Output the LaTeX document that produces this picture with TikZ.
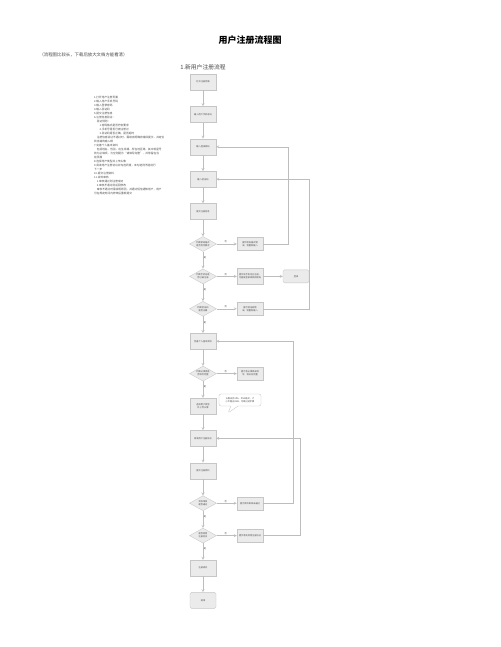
\documentclass[tikz,border=0pt]{standalone}
\usepackage{fontspec}
\setmainfont{Noto Sans CJK SC}
\XeTeXlinebreaklocale "zh"
\XeTeXlinebreakskip=0pt plus 0.01pt
\usetikzlibrary{arrows,shapes.geometric,shapes.callouts}

\definecolor{boxfill}{HTML}{EBEBEB}
\definecolor{boxline}{HTML}{C6C6C6}
\definecolor{flowline}{HTML}{BDBDBD}
\definecolor{txt}{HTML}{4A4A4A}
\newcommand\boxfont{\fontsize{2.2}{2.9}\selectfont}
\newcommand\notefont{\fontsize{2.7}{4}\selectfont}

\begin{document}
\begin{tikzpicture}[x=1pt, y=-1pt, node distance={32.4pt}, line width=0.35pt, >=stealth,
    box/.style = {draw=boxline, fill=boxfill, text=txt, font=\boxfont, minimum width=26pt, minimum height=16pt, text width=22pt, inner sep=0.4pt, align=center},
    tip/.style = {box, minimum height=13pt},
    stop/.style = {box, rounded corners=1.5pt},
    check/.style = {draw=boxline, fill=boxfill, text=txt, font=\boxfont, diamond, aspect=1.9, minimum width=27pt, minimum height=15pt, inner sep=0pt, text width=15pt, align=center},
    flow/.style = {draw=flowline, ->},
    lbl/.style = {text=txt, font=\boxfont, inner sep=0.8pt}]
        \fill[white] (0,0) rectangle (500,647);
        \useasboundingbox (0,0) rectangle (500,647);

        % titles
        \node[font=\fontsize{9}{10}\selectfont\bfseries] (title) at (250,40) {用户注册流程图};
        \node[font=\fontsize{4.4}{5}\selectfont, text=txt, anchor=west] (hint) at (36,55) {（流程图比较长，下载后放大文档方能看清）};
        \node[font=\fontsize{5.8}{6}\selectfont, text=txt] (sub) at (203,67) {1.新用户注册流程};

        % notes on the left
        \node[font=\notefont, text=txt, anchor=north west, align=left, inner sep=0pt] (notes) at (94,96) {%
            1.打开用户注册页面\\
            2.输入用户手机号码\\
            3.输入登录密码\\
            4.输入验证码\\
            5.提交注册信息\\
            6.注册信息验证：\\
            \quad 验证规则：\\
            \qquad 1.密码格式是否符合要求\\
            \qquad 2.手机号是否已被注册过\\
            \qquad 3.验证码是否正确、是否超时\\
            \quad 注册信息验证不通过时，需给出明确的错误提示，并定位\\
            到出错的输入框\\
            7.完善个人基本资料\\
            \quad 包括姓名、性别、出生日期、所在地区等，其中标星号\\
            的为必填项，为空则提示“请填写完整”，并停留在当\\
            前页面\\
            8.选择用户类型并上传头像\\
            9.阅读用户注册协议并勾选同意，未勾选则不能进行\\
            下一步\\
            10.提交注册资料\\
            11.资料审核\\
            \quad 1.审核通过则注册成功\\
            \quad 2.审核不通过则返回修改\\
            \quad 审核不通过时需说明原因，并通过短信通知用户，用户\\
            可在规定时间内修改后重新提交};

        % main column
        \node[box] (b1) at (203,82) {打开注册页面};
        \node[box] (b2) [below of=b1] {输入用户手机号码};
        \node[box] (b3) [below of=b2] {输入登录密码};
        \node[box] (b4) [below of=b3] {输入验证码};
        \node[box] (b5) [below of=b4] {提交注册信息};
        \node[check] (d1) [below of=b5] {判断密码格式是否符合要求};
        \node[check] (d2) [below of=d1] {判断手机号是否已被注册};
        \node[check] (d3) [below of=d2] {判断验证码是否正确};
        \node[box] (b9) [below of=d3] {完善个人基本资料};
        \node[check] (d4) [below of=b9] {判断必填项是否填写完整};
        \node[box] (b11) [below of=d4] {选择用户类型并上传头像};
        \node[box] (b12) [below of=b11] {阅读用户注册协议};
        \node[box] (b13) [below of=b12] {提交注册资料};
        \node[check] (d5) [below of=b13] {资料审核是否通过};
        \node[check] (d6) [below of=d5] {是否同意注册协议};
        \node[box] (b16) [below of=d6] {注册成功};
        \node[stop] (b17) [below of=b16] {结束};

        % right column
        \node[tip] (r1) [node distance=47pt, right of=d1] {提示密码格式错误，请重新输入};
        \node[tip, minimum height=16pt] (r2) [node distance=47pt, right of=d2] {提示该手机号已注册，可直接登录或找回密码};
        \node[stop, minimum height=13pt] (login) [node distance=46pt, right of=r2] {登录};
        \node[tip] (r3) [node distance=47pt, right of=d3] {提示验证码错误，请重新输入};
        \node[tip] (r4) [node distance=47pt, right of=d4] {提示有必填项未填写，请补充完整};
        \node[tip] (r5) [node distance=47pt, right of=d5] {提示资料审核未通过};
        \node[tip] (r6) [node distance=47pt, right of=d6] {提示请先同意注册协议};

        % callout
        \node[rectangle callout, rounded corners=2pt, draw=boxline, fill=white, text=txt, font=\boxfont, text width=40pt, align=center, inner sep=1pt, minimum height=12pt, callout absolute pointer={(228,413)}] (memo) at (240,400) {头像支持JPG、PNG格式，大小不超过2MB，可跳过此步骤};

        % main flow
        \foreach \a/\b in {b1/b2, b2/b3, b3/b4, b4/b5, b5/d1, b9/d4, b11/b12, b12/b13, b13/d5, b16/b17}
            \draw[flow] (\a) -- (\b);
        \foreach \a/\b in {d1/d2, d2/d3, d3/b9, d4/b11, d5/d6, d6/b16}
            \draw[flow] (\a) -- node[lbl, right, pos=0.35] {是} (\b);
        \foreach \a/\b in {d1/r1, d2/r2, d3/r3, d4/r4, d5/r5, d6/r6}
            \draw[flow] (\a) -- node[lbl, above, pos=0.45] {否} (\b);

        % back lines
        \draw[flow] (r2) -- (login);
        \draw[flow] (r1.east) -- ++(25,0) |- (b3.east);
        \draw[flow] (r3.east) -- ++(46,0) |- (b4.east);
        \draw[flow] (r5.east) -- ++(30,0) |- (b9.east);
        \draw[flow] (r6.east) -- ++(37,0) |- (b12.east);
    \end{tikzpicture}
\end{document}
